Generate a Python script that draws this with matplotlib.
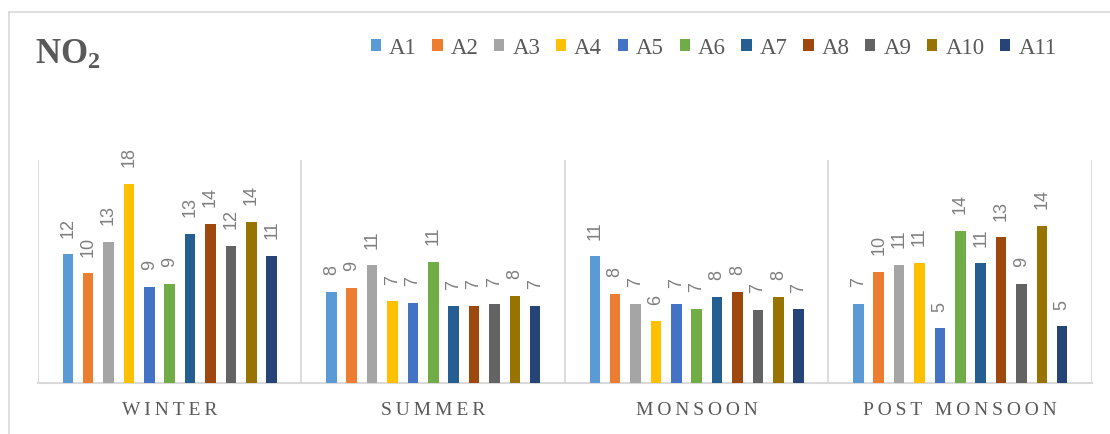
import numpy as np
import matplotlib.pyplot as plt
from matplotlib.patches import Patch
from matplotlib.lines import Line2D

seasons = ["WINTER", "SUMMER", "MONSOON", "POST MONSOON"]
sites = ["A1", "A2", "A3", "A4", "A5", "A6", "A7", "A8", "A9", "A10", "A11"]

# NO2 per site, one list per season
winter = [11.57, 9.87, 12.67, 17.87, 8.64, 8.90, 13.39, 14.26, 12.29, 14.44, 11.44]
summer = [8.19, 8.55, 10.58, 7.35, 7.24, 10.88, 6.90, 6.93, 7.15, 7.83, 6.93]
monsoon = [11.39, 8.01, 7.11, 5.56, 7.09, 6.67, 7.77, 8.19, 6.58, 7.74, 6.64]
post_monsoon = [7.11, 9.98, 10.61, 10.82, 4.93, 13.63, 10.76, 13.09, 8.90, 14.08, 5.11]

colors = ["#5B9BD5", "#ED7D31", "#A5A5A5", "#FFC000", "#4472C4", "#70AD47",
          "#255E91", "#9E480E", "#636363", "#997300", "#264478"]

data = np.array([winter, summer, monsoon, post_monsoon])

serif = ["Liberation Serif", "DejaVu Serif"]
plt.rcParams["mathtext.fontset"] = "custom"
plt.rcParams["mathtext.bf"] = "Liberation Serif:bold"
plt.rcParams["mathtext.rm"] = "Liberation Serif"

fig = plt.figure(figsize=(11.1, 4.34), dpi=100)
ax = fig.add_axes([0.03423, 0.1164, 0.94955, 0.5150])

# outer chart frame
fig.add_artist(Line2D([9 / 1110, 1], [1 - 12 / 434] * 2, color="#d9d9d9", lw=1.2))
fig.add_artist(Line2D([9 / 1110] * 2, [0, 1 - 12 / 434], color="#d9d9d9", lw=1.2))

x = np.arange(len(seasons))
pitch = 0.0774
width = 0.040
for i, name in enumerate(sites):
    pos = x + (i - 5) * pitch
    vals = data[:, i]
    ax.bar(pos, vals, width, color=colors[i], zorder=3)
    for px, v in zip(pos, vals):
        ax.annotate(f"{v:.0f}", (px, v), xytext=(0, 12), textcoords="offset points",
                    rotation=90, ha="center", va="bottom", fontsize=13,
                    color="#7f7f7f", family="Liberation Sans")

ax.set_xlim(-0.5, 3.5)
ax.set_ylim(0, 20)
ax.set_yticks([])
ax.set_xticks([-0.5, 0.5, 1.5, 2.5, 3.5], minor=True)
ax.grid(axis="x", which="minor", color="#d9d9d9", lw=1.3)
ax.tick_params(axis="x", which="both", length=0)
for s in ["left", "right", "top"]:
    ax.spines[s].set_visible(False)
ax.spines["bottom"].set_color("#d9d9d9")
ax.spines["bottom"].set_linewidth(1.5)

# letter-spaced season names
spaced = ["\u2009".join(s) for s in seasons]
ax.set_xticks(x)
ax.set_xticklabels(spaced, family=serif, fontsize=14, color="#595959")
ax.tick_params(axis="x", which="major", pad=13)

fig.text(35 / 1110, 1 - 64 / 434, r"$\mathbf{NO_2}$", fontsize=25, color="#595959",
         ha="left", va="baseline")

handles = [Patch(facecolor=c, edgecolor="none") for c in colors]
fig.legend(handles, sites, loc="center right", bbox_to_anchor=(1068 / 1110, 1 - 48 / 434),
           ncol=11, frameon=False, handlelength=0.45, handleheight=0.45,
           handletextpad=0.35, columnspacing=0.68, borderpad=0,
           prop={"family": serif, "size": 16.5}, labelcolor="#595959")

fig.savefig("out.png", dpi=100)
